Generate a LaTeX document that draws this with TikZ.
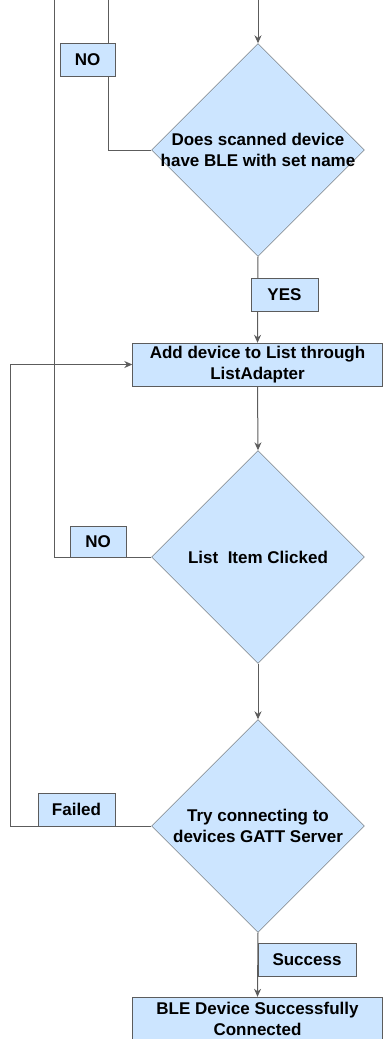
\documentclass[tikz,border=0pt]{standalone}
\usepackage{fontspec}
\setmainfont{Liberation Sans}
\usetikzlibrary{arrows.meta}
\usetikzlibrary{shapes.geometric}
\definecolor{boxfill}{HTML}{CCE5FF}
\definecolor{edge}{HTML}{5C5C5C}
\tikzstyle{decision}=[draw=edge,fill=boxfill,diamond,minimum width=213pt,minimum height=213pt,inner sep=0pt]
\tikzstyle{process}=[draw=edge,fill=boxfill,rectangle,minimum width=250pt,minimum height=43pt,align=center,inner sep=0pt]
\tikzstyle{answer}=[draw=edge,fill=boxfill,rectangle,minimum height=33pt,inner sep=0pt]
\tikzstyle{flow}=[draw=edge,line width=1pt]

\begin{document}
\begin{tikzpicture}[x=1pt,y=-1pt,font=\fontsize{17}{21}\selectfont\bfseries,>={Stealth[length=8pt,width=7pt]}]
\useasboundingbox (0,0) rectangle (383,1039);

\node [decision] (scan) at (258,150) {};
\node [align=center] (scantext) at (scan) {Does scanned device\\have BLE with set name};
\node [process] (add) at (257.5,364.5) {Add device to List through\\ListAdapter};
\node [decision] (click) at (258,557) {};
\node (clicktext) at (click) {List~~Item Clicked};
\node [decision] (gatt) at (258,826) {};
\node [align=center] (gatttext) at (gatt) {Try connecting to\\devices GATT Server};
\node [process] (done) at (257.5,1018.5) {BLE Device Successfully\\Connected};

\coordinate (in) at (258,-5);
\coordinate (loopa) at (108,-5);
\coordinate (loopb) at (54,-5);

\draw [flow,->] (in) -- (scan.north);
\draw [flow,->] (scan.south) -- (add.north);
\draw [flow,->] (add.south) -- (click.north);
\draw [flow,->] (click.south) -- (gatt.north);
\draw [flow,->] (gatt.south) -- (done.north);
\draw [flow] (scan.west) -| (loopa);
\draw [flow] (click.west) -| (loopb);
\draw [flow,->] (gatt.west) -- ++(-141,0) |- (add.west);

\node [answer,minimum width=55pt] (no1) at (87.5,59.5) {NO};
\node [answer,minimum width=67pt] (yes) at (284.5,295) {YES};
\node [answer,minimum width=56pt,minimum height=31pt] (no2) at (98,541.5) {NO};
\node [answer,minimum width=77pt] (fail) at (76.5,809.5) {Failed};
\node [answer,minimum width=98pt] (ok) at (307,959.5) {Success};
\end{tikzpicture}
\end{document}
